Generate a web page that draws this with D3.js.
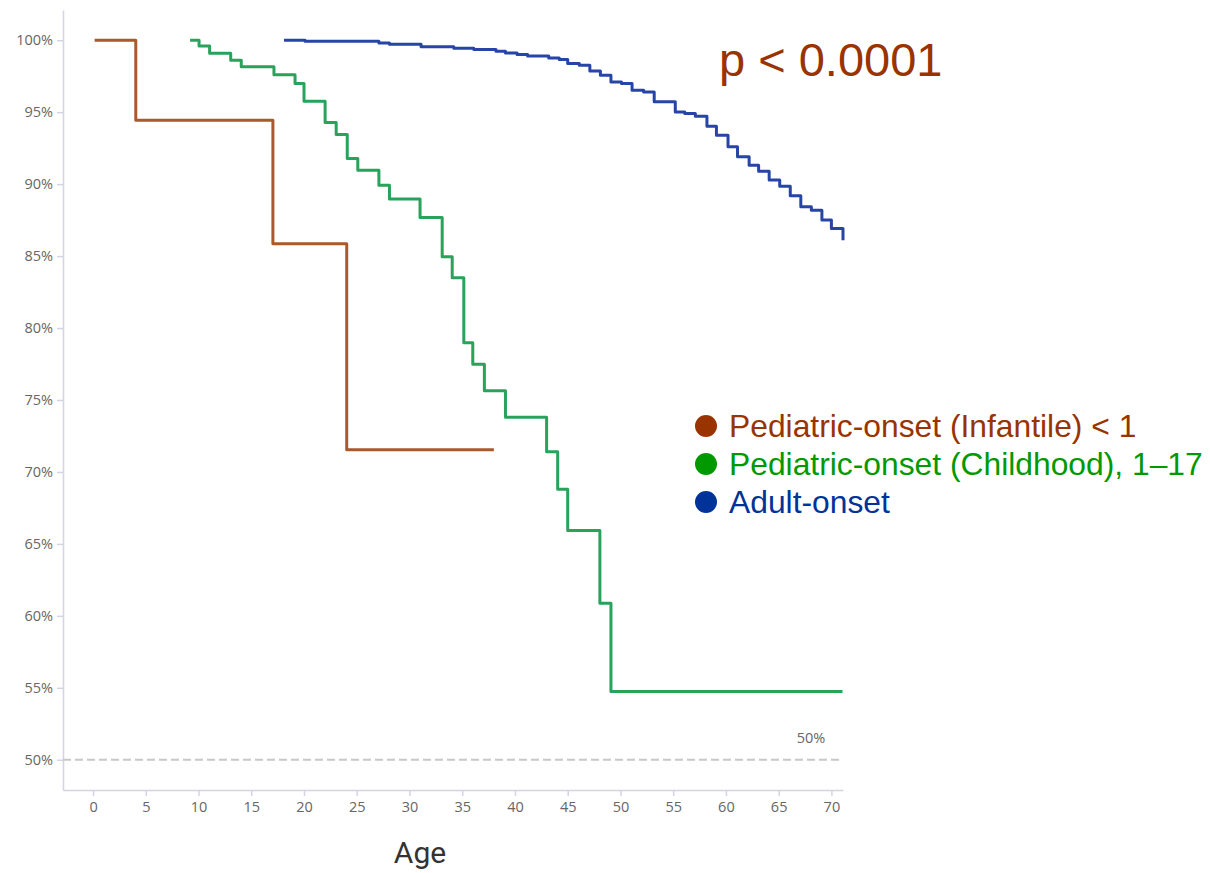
<!DOCTYPE html>
<html>
<head>
<meta charset="utf-8">
<script src="https://cdn.jsdelivr.net/npm/d3@7"></script>
<style>
  html, body { margin: 0; padding: 0; background: #fff; }
  svg { display: block; }
  .tick text { font-family: "Open Sans", Roboto, sans-serif; }
</style>
</head>
<body>
<svg id="chart" width="1210" height="873"></svg>
<script>
// Kaplan–Meier style survival by age of onset (age in years, survival in %)
const infantileAge  = [0.15, 4.05, 17.05, 24.05, 38.0];
const infantileSurv = [100, 94.44, 85.86, 71.55, 71.55];

const childhoodAge  = [9.2, 10.05, 11.05, 13.05, 14.05, 17.15, 19.15, 20.0, 22.0, 23.05, 24.1, 25.1,
                       27.1, 28.1, 31.0, 33.1, 34.05, 35.15, 36.0, 37.1, 39.1, 43.0, 44.05, 45.0,
                       48.05, 49.1, 71.05];
const childhoodSurv = [100, 99.6, 99.1, 98.6, 98.15, 97.6, 97.0, 95.76, 94.28, 93.45, 91.78, 90.97,
                       89.93, 88.96, 87.69, 84.95, 83.5, 78.98, 77.48, 75.65, 73.8, 71.41, 68.8, 65.93,
                       60.88, 54.74, 54.74];

const adultAge  = [18.1, 20.1, 27.1, 28.1, 31.1, 34.2, 36.1, 38.2, 39.1, 40.2, 41.2, 43.2, 44.2,
                   45.0, 46.1, 47.1, 48.1, 49.1, 50.1, 51.1, 52.2, 53.2, 55.2, 56.1, 57.1, 58.2,
                   59.1, 60.2, 61.1, 62.2, 63.1, 64.1, 65.1, 66.1, 67.1, 68.1, 69.1, 70.0, 71.1];
const adultSurv = [100, 99.93, 99.81, 99.72, 99.54, 99.44, 99.35, 99.24, 99.12, 99.0, 98.9, 98.77, 98.66,
                   98.38, 98.26, 97.87, 97.57, 97.1, 96.99, 96.53, 96.41, 95.72, 95.02, 94.91, 94.72, 94.03,
                   93.4, 92.59, 91.9, 91.32, 90.9, 90.28, 89.86, 89.19, 88.43, 88.19, 87.5, 86.92, 86.1];

const xTicks = [0, 5, 10, 15, 20, 25, 30, 35, 40, 45, 50, 55, 60, 65, 70];
const yTicks = [50, 55, 60, 65, 70, 75, 80, 85, 90, 95, 100];

const groupNames  = ["Pediatric-onset (Infantile) < 1", "Pediatric-onset (Childhood), 1\u201317", "Adult-onset"];
const lineColors  = ["#a9592b", "#27a35b", "#2745a6"];
const labelColors = ["#993300", "#009900", "#003399"];
const pValueText = "p < 0.0001";
const refLevel = 50;

const svg = d3.select("#chart");

const x = d3.scaleLinear().domain([-2.85, 71.1]).range([63, 843]);
const y = d3.scaleLinear().domain([47.9, 102.1]).range([790, 10]);

// Axes
const axisColor = "#d3d4e4";
const xAxis = svg.append("g")
  .attr("transform", `translate(0,${y.range()[0]})`)
  .call(d3.axisBottom(x).tickValues(xTicks).tickSize(6).tickSizeOuter(0).tickPadding(6));
xAxis.select(".domain").attr("stroke", axisColor).attr("stroke-width", 1.5);
xAxis.selectAll(".tick line").attr("stroke", axisColor).attr("stroke-width", 1.5);
xAxis.selectAll(".tick text").attr("fill", "#666").attr("font-size", 14.5);

const yAxis = svg.append("g")
  .attr("transform", `translate(${x.range()[0]},0)`)
  .call(d3.axisLeft(y).tickValues(yTicks).tickFormat(d => d + "%").tickSize(6).tickSizeOuter(0).tickPadding(4));
yAxis.select(".domain").attr("stroke", axisColor).attr("stroke-width", 1.5);
yAxis.selectAll(".tick line").attr("stroke", axisColor).attr("stroke-width", 1.5);
yAxis.selectAll(".tick text").attr("fill", "#666").attr("font-size", 14.5);

// 50% reference line
svg.append("line")
  .attr("x1", x.range()[0]).attr("x2", x.range()[1])
  .attr("y1", y(refLevel)).attr("y2", y(refLevel))
  .attr("stroke", "#c8c8c8").attr("stroke-width", 2)
  .attr("stroke-dasharray", "8,4");
svg.append("text")
  .attr("x", 811).attr("y", y(refLevel) - 17)
  .attr("text-anchor", "middle")
  .attr("font-family", "'Open Sans', Roboto, sans-serif")
  .attr("font-size", 14.5).attr("fill", "#666")
  .text(refLevel + "%");

// Survival step curves
const step = d3.line().x(d => x(d[0])).y(d => y(d[1])).curve(d3.curveStepAfter);
const series = [
  d3.zip(infantileAge, infantileSurv),
  d3.zip(childhoodAge, childhoodSurv),
  d3.zip(adultAge, adultSurv)
];
series.forEach((pts, i) => {
  svg.append("path")
    .attr("d", step(pts))
    .attr("fill", "none")
    .attr("stroke", lineColors[i])
    .attr("stroke-width", 3)
    .attr("stroke-linejoin", "round");
});

// p-value annotation
svg.append("text")
  .attr("x", 719).attr("y", 76)
  .attr("font-family", "'Liberation Sans', Arial, sans-serif")
  .attr("font-size", 47)
  .attr("fill", "#993300")
  .text(pValueText);

// Legend
const legend = svg.append("g").attr("transform", "translate(706,426)");
groupNames.forEach((name, i) => {
  const row = legend.append("g").attr("transform", `translate(0,${i * 38})`);
  row.append("circle").attr("r", 11).attr("fill", labelColors[i]);
  row.append("text")
    .attr("x", 23).attr("y", 11)
    .attr("font-family", "'Liberation Sans', Arial, sans-serif")
    .attr("font-size", 31.8)
    .attr("fill", labelColors[i])
    .text(name);
});

// X axis title
svg.append("text")
  .attr("x", 420).attr("y", 863)
  .attr("text-anchor", "middle")
  .attr("font-family", "Roboto, 'Liberation Sans', sans-serif")
  .attr("font-size", 30)
  .attr("fill", "#333")
  .text("Age");
</script>
</body>
</html>
